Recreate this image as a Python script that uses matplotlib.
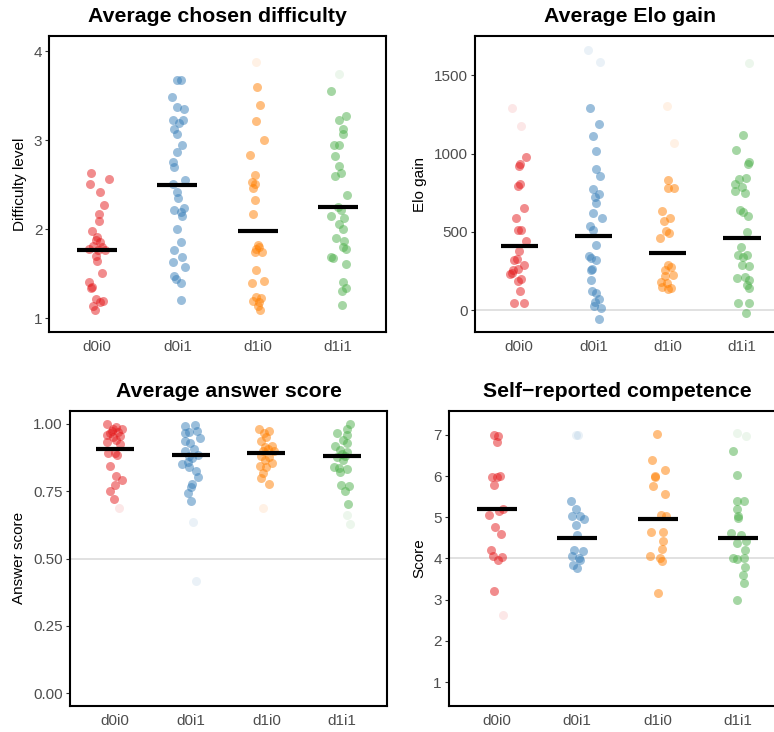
import matplotlib
matplotlib.use('Agg')
import matplotlib.pyplot as plt
from matplotlib.ticker import FormatStrFormatter

plt.rcParams['font.family'] = ['Liberation Sans', 'DejaVu Sans']

groups = ['d0i0', 'd0i1', 'd1i0', 'd1i1']
colors = ['#E41A1C', '#377EB8', '#FF7F00', '#4DAF4A']  # Set1

# ---- Average chosen difficulty ----
diff_y = [
    [2.63, 2.56, 2.51, 2.42, 2.27, 2.17, 2.09, 1.98, 1.91, 1.88, 1.85, 1.78, 1.80, 1.76, 1.76,
     1.70, 1.64, 1.51, 1.40, 1.35, 1.34, 1.21, 1.19, 1.18, 1.14, 1.09, 1.81],
    [3.68, 3.68, 3.48, 3.37, 3.35, 3.23, 3.19, 3.23, 3.13, 3.07, 2.95, 2.87, 2.75, 2.70, 2.55,
     2.51, 2.42, 2.35, 2.22, 2.24, 2.15, 2.19, 2.00, 1.85, 1.76, 1.69, 1.63, 1.57, 1.47, 1.44,
     1.39, 1.20],
    [3.60, 3.40, 3.21, 3.00, 2.83, 2.61, 2.53, 2.51, 2.46, 2.33, 2.17, 1.82, 1.78, 1.80, 1.74,
     1.74, 1.54, 1.42, 1.39, 1.24, 1.22, 1.19, 1.18, 1.14, 1.09],
    [3.55, 3.27, 3.23, 3.12, 3.07, 2.94, 2.94, 2.82, 2.71, 2.60, 2.63, 2.38, 2.15, 2.13, 2.06,
     2.00, 1.90, 1.87, 1.80, 1.78, 1.69, 1.67, 1.61, 1.40, 1.34, 1.30, 1.15, 2.25, 2.22],
]
diff_jitter = [
    [-0.08, 0.15, -0.09, 0.03, 0.08, 0.02, 0.02, -0.07, 0.00, -0.02, 0.03, -0.10, 0.06, 0.01, 0.10,
     -0.02, 0.00, 0.06, -0.10, -0.07, -0.08, -0.02, 0.07, 0.03, -0.05, -0.03, -0.05],
    [-0.01, 0.04, -0.07, 0.00, 0.08, -0.05, 0.02, 0.07, -0.04, 0.00, 0.06, -0.01, -0.06, -0.04, 0.10,
     -0.06, 0.00, 0.01, -0.04, 0.08, 0.06, 0.04, -0.01, 0.04, -0.04, 0.06, -0.05, 0.09, -0.04, -0.02,
     0.04, 0.05],
    [-0.01, 0.03, -0.02, 0.08, -0.10, -0.03, -0.07, -0.03, -0.06, -0.03, -0.06, 0.00, -0.02, 0.02, -0.03,
     0.05, -0.02, 0.08, -0.07, -0.02, 0.04, -0.06, 0.02, 0.00, 0.03],
    [-0.08, 0.10, 0.02, 0.06, 0.06, -0.05, 0.01, -0.03, 0.01, -0.04, 0.04, 0.11, -0.08, 0.08, 0.02,
     0.07, -0.02, 0.08, 0.06, 0.10, -0.08, -0.06, 0.10, 0.07, 0.10, 0.05, 0.05, 0.00, 0.04],
]
diff_out_g = [2, 3]
diff_out_y = [3.88, 3.74]
diff_out_jitter = [-0.02, 0.01]
diff_means = [1.77, 2.49, 1.98, 2.25]

# ---- Average Elo gain ----
elo_y = [
    [977, 930, 921, 804, 794, 655, 591, 515, 515, 443, 379, 319, 326, 287, 260, 266, 238, 230,
     202, 187, 123, 49, 49],
    [1287, 1187, 1113, 1015, 904, 857, 772, 740, 723, 685, 623, 589, 538, 511, 415, 347, 334,
     319, 264, 260, 196, 123, 113, 74, 53, 28, 17, -57],
    [834, 777, 777, 632, 591, 570, 506, 496, 464, 287, 277, 260, 223, 217, 181, 174, 149, 143, 138],
    [1117, 1021, 936, 943, 840, 847, 808, 787, 760, 751, 638, 628, 602, 500, 404, 351, 340, 351,
     287, 283, 209, 213, 191, 160, 145, 49, 49, -15],
]
elo_jitter = [
    [0.09, 0.01, 0.00, 0.01, -0.02, 0.07, -0.04, -0.01, 0.02, 0.09, 0.00, -0.07, -0.03, 0.07, -0.08,
     -0.02, -0.09, -0.12, 0.02, -0.02, 0.01, -0.07, 0.06],
    [-0.04, 0.08, 0.00, 0.04, 0.04, 0.09, 0.00, 0.07, 0.02, 0.04, -0.01, 0.12, -0.05, 0.00, 0.04,
     -0.06, -0.03, 0.04, -0.02, -0.03, -0.03, -0.02, 0.04, 0.07, 0.02, 0.01, 0.10, 0.08],
    [0.00, 0.01, 0.09, -0.07, 0.03, -0.05, -0.02, 0.02, -0.10, 0.00, 0.04, -0.04, 0.07, -0.04, -0.09,
     -0.01, -0.07, 0.04, 0.00],
    [0.01, -0.08, 0.08, 0.09, -0.04, 0.06, -0.09, 0.00, -0.09, 0.04, -0.03, 0.02, 0.08, 0.07, -0.01,
     -0.06, 0.01, 0.07, 0.00, 0.10, -0.07, 0.04, 0.09, 0.07, 0.10, -0.06, 0.10, 0.06],
]
elo_out_g = [0, 0, 1, 1, 2, 2, 3]
elo_out_y = [1287, 1177, 1660, 1585, 1302, 1068, 1574]
elo_out_jitter = [-0.09, 0.02, -0.07, 0.09, -0.01, 0.09, 0.10]
elo_means = [410, 471, 366, 462]

# ---- Average answer score ----
ans_y = [
    [0.999, 0.99, 0.983, 0.98, 0.974, 0.965, 0.97, 0.958, 0.957, 0.953, 0.94, 0.934, 0.926,
     0.891, 0.894, 0.885, 0.845, 0.807, 0.792, 0.774, 0.75, 0.722],
    [0.993, 0.996, 0.971, 0.975, 0.965, 0.949, 0.937, 0.928, 0.906, 0.90, 0.882, 0.885, 0.873,
     0.86, 0.85, 0.839, 0.825, 0.804, 0.776, 0.765, 0.745, 0.714],
    [0.981, 0.974, 0.965, 0.953, 0.937, 0.918, 0.916, 0.906, 0.881, 0.876, 0.866, 0.844, 0.854,
     0.842, 0.819, 0.798, 0.776, 0.90, 0.90],
    [0.999, 0.98, 0.968, 0.959, 0.94, 0.928, 0.918, 0.903, 0.897, 0.876, 0.866, 0.842, 0.835,
     0.832, 0.823, 0.774, 0.77, 0.752, 0.702, 0.89, 0.88],
]
ans_jitter = [
    [-0.10, 0.01, 0.09, -0.02, -0.04, -0.07, 0.04, -0.10, 0.07, -0.02, 0.02, -0.10, 0.07, -0.09,
     0.00, 0.03, -0.06, 0.02, 0.09, 0.00, -0.07, -0.01],
    [-0.07, 0.06, -0.02, 0.08, -0.07, 0.12, -0.07, -0.01, 0.04, -0.07, -0.02, 0.10, 0.02, -0.04,
     -0.11, -0.02, 0.07, 0.10, 0.02, 0.00, -0.04, 0.01],
    [-0.10, 0.04, -0.03, 0.00, -0.07, 0.08, -0.02, 0.02, -0.07, 0.04, -0.02, -0.09, 0.08, 0.00,
     -0.04, -0.07, 0.04, 0.10, -0.05],
    [0.11, 0.07, -0.07, 0.07, 0.02, 0.07, -0.09, -0.02, 0.07, -0.07, 0.02, -0.10, -0.04, 0.07,
     -0.02, -0.01, 0.09, 0.04, 0.08, 0.00, 0.04],
]
ans_out_g = [0, 1, 1, 2, 3, 3]
ans_out_y = [0.689, 0.637, 0.418, 0.689, 0.662, 0.629]
ans_out_jitter = [0.05, 0.03, 0.07, -0.04, 0.07, 0.10]
ans_means = [0.907, 0.886, 0.893, 0.882]

# ---- Self-reported competence ----
score_y = [
    [6.99, 6.97, 6.82, 5.98, 6.00, 5.98, 5.78, 5.20, 5.15, 5.05, 4.77, 4.60, 4.20, 4.05, 3.97,
     4.03, 3.20],
    [5.39, 5.20, 5.02, 5.02, 4.96, 4.82, 4.58, 4.21, 4.17, 4.05, 4.01, 3.97, 3.85, 3.77],
    [7.03, 6.40, 6.16, 6.01, 5.98, 5.75, 5.57, 5.05, 5.02, 4.64, 4.64, 4.42, 4.23, 4.05, 4.01,
     3.93, 3.16],
    [6.60, 6.02, 5.39, 5.40, 5.19, 5.02, 4.98, 4.62, 4.56, 4.42, 4.38, 4.20, 4.00, 3.98, 4.00,
     3.79, 3.60, 3.40, 3.00],
]
score_jitter = [
    [-0.03, 0.01, 0.00, -0.06, 0.04, 0.00, -0.03, 0.08, 0.03, -0.10, -0.02, 0.05, -0.07, -0.05,
     0.01, 0.06, -0.03],
    [-0.08, -0.02, -0.06, 0.04, 0.08, -0.02, 0.00, -0.04, 0.07, -0.07, 0.02, 0.04, -0.05, 0.00],
    [-0.01, -0.07, 0.09, -0.04, -0.03, -0.06, 0.09, 0.04, 0.10, -0.08, 0.07, 0.07, 0.05, -0.09,
     0.03, 0.05, 0.00],
    [-0.07, -0.02, -0.02, 0.07, -0.02, 0.00, 0.00, -0.09, 0.04, 0.10, -0.01, 0.08, -0.07, -0.01,
     0.07, 0.08, 0.06, 0.07, -0.01],
]
score_out_g = [0, 1, 1, 3, 3]
score_out_y = [2.63, 7.0, 7.0, 7.05, 6.97]
score_out_jitter = [0.08, -0.02, 0.01, -0.01, 0.10]
score_means = [5.19, 4.50, 4.95, 4.50]


def panel(ax, ys, jit, out_g, out_y, out_j, means, title, ylabel, ylim, yticks, refline=None):
    if refline is not None:
        ax.axhline(refline, color='#D9D9D9', lw=1.1, zorder=0)
    for i in range(4):
        xs = [i + 1 + d for d in jit[i]]
        ax.scatter(xs, ys[i], s=42, color=colors[i], alpha=0.5, linewidths=0, zorder=2)
    for g, y, d in zip(out_g, out_y, out_j):
        ax.scatter(g + 1 + d, y, s=42, color=colors[g], alpha=0.1, linewidths=0, zorder=2)
    for i, m in enumerate(means):
        ax.plot([i + 0.75, i + 1.25], [m, m], color='black', lw=3,
                solid_capstyle='butt', zorder=3)
    ax.set_xlim(0.4, 4.6)
    ax.set_ylim(*ylim)
    ax.set_xticks([1, 2, 3, 4])
    ax.set_xticklabels(groups)
    ax.set_yticks(yticks)
    ax.tick_params(axis='x', length=0, pad=6, labelsize=11, labelcolor='#4D4D4D')
    ax.tick_params(axis='y', length=2.8, width=0.8, color='#333333', pad=2,
                   labelsize=11, labelcolor='#4D4D4D')
    for sp in ax.spines.values():
        sp.set_linewidth(1.5)
        sp.set_color('black')
    ax.set_title(title, fontsize=15.3, fontweight='bold', pad=10)
    ax.set_ylabel(ylabel, fontsize=11, labelpad=5)


fig = plt.figure(figsize=(7.74, 7.32), dpi=100)
ax1 = fig.add_axes([0.0633, 0.5464, 0.4354, 0.4044])
ax2 = fig.add_axes([0.6131, 0.5464, 0.4031, 0.4044])
ax3 = fig.add_axes([0.0899, 0.0359, 0.4106, 0.4026])
ax4 = fig.add_axes([0.5795, 0.0359, 0.4366, 0.4026])

panel(ax1, diff_y, diff_jitter, diff_out_g, diff_out_y, diff_out_jitter, diff_means,
      'Average chosen difficulty', 'Difficulty level', (0.843, 4.17), [1, 2, 3, 4])
panel(ax2, elo_y, elo_jitter, elo_out_g, elo_out_y, elo_out_jitter, elo_means,
      'Average Elo gain', 'Elo gain', (-138, 1749), [0, 500, 1000, 1500], refline=0)
panel(ax3, ans_y, ans_jitter, ans_out_g, ans_out_y, ans_out_jitter, ans_means,
      'Average answer score', 'Answer score', (-0.046, 1.048),
      [0, 0.25, 0.5, 0.75, 1.0], refline=0.5)
ax3.yaxis.set_major_formatter(FormatStrFormatter('%.2f'))
panel(ax4, score_y, score_jitter, score_out_g, score_out_y, score_out_jitter, score_means,
      'Self\u2212reported competence', 'Score', (0.425, 7.58), [1, 2, 3, 4, 5, 6, 7], refline=4)

fig.savefig('out.png', dpi=100)
